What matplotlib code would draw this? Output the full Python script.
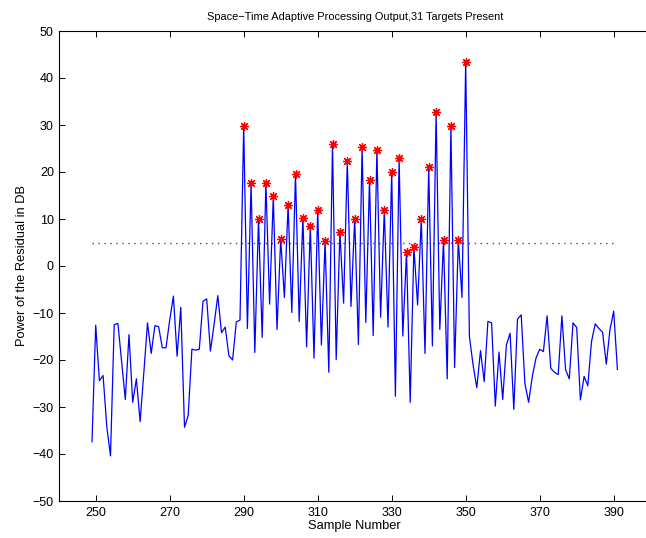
import numpy as np
import matplotlib
matplotlib.use("Agg")
import matplotlib.pyplot as plt

plt.rcParams['font.family'] = ['Liberation Sans', 'DejaVu Sans']

# Sample indices and residual power (dB)
samples = np.arange(249, 392)
power = [
    -37.4, -12.6, -24.4, -23.3, -34.2, -40.4, -12.5, -12.2, -20.3, -28.4,
    -14.6, -29.0, -24.0, -33.1, -22.8, -12.1, -18.6, -12.7, -12.9, -17.4,
    -17.4, -11.5, -6.4, -19.2, -8.8, -34.3, -31.8, -17.7, -17.9, -17.7,
    -7.5, -7.0, -18.1, -12.4, -6.3, -14.2, -13.0, -19.1, -20.0, -11.9,
    -11.5,
    # 290 .. 350
    29.8, -13.3, 17.6, -18.4, 9.9, -15.2, 17.7, -8.1, 14.8, -13.5,
    5.7, -6.7, 13.0, -9.9, 19.6, -11.8, 10.3, -17.2, 8.6, -19.6,
    11.9, -16.8, 5.3, -22.6, 25.9, -19.9, 7.3, -7.9, 22.3, -8.6,
    10.1, -16.7, 25.3, -12.0, 18.4, -14.8, 24.7, -10.9, 11.9, -13.0,
    20.1, -27.7, 22.9, -14.9, 2.9, -29.0, 4.0, -8.3, 10.0, -18.6,
    21.0, -17.0, 32.8, -13.5, 5.5, -24.0, 29.8, -21.6, 5.5, -6.7,
    43.5,
    # 351 .. 391
    -15.0, -21.1, -25.9, -18.0, -24.6, -11.8, -12.1, -29.8, -18.3, -28.4,
    -16.8, -14.3, -30.5, -11.3, -10.4, -25.0, -29.0, -23.5, -19.6, -17.7,
    -18.2, -10.6, -21.8, -22.6, -23.1, -10.6, -22.1, -24.0, -12.1, -13.1,
    -28.5, -23.5, -25.5, -16.1, -12.3, -13.3, -14.1, -20.9, -13.5, -9.6,
    -22.0,
]
power = np.array(power)

# Target locations (every other sample from 290 to 350)
targets = np.arange(290, 351, 2)
target_power = power[targets - samples[0]]

threshold = 5.0

xticks = [250, 270, 290, 310, 330, 350, 370, 390]
yticks = [-50, -40, -30, -20, -10, 0, 10, 20, 30, 40, 50]

W, H = 646, 538
fig = plt.figure(figsize=(W / 100, H / 100), dpi=100)
left, top, bottom = 58.7, 31.0, 501.0
xmin, xmax = 240, 400
px_per_unit = 3.7
ax_w = (xmax - xmin) * px_per_unit
ax = fig.add_axes([left / W, (H - bottom) / H, ax_w / W, (bottom - top) / H])

ax.plot(samples, power, color=(0, 0, 1), lw=0.9, zorder=2)
ax.plot(targets, target_power, linestyle='none', marker=(8, 2, 0),
        markersize=6.5, markeredgewidth=0.9, color='red', zorder=3)
ax.plot([samples[0], samples[-1]], [threshold, threshold], color='0.3',
        lw=1.0, linestyle=(0, (1, 3.3)), zorder=1)

ax.set_xlim(xmin, xmax)
ax.set_ylim(-50, 50)
ax.set_xticks(xticks)
ax.set_yticks(yticks)
ax.spines['right'].set_visible(False)
ax.tick_params(direction='in', length=4, width=0.7, labelsize=9,
               top=True, right=False)
ax.tick_params(axis='x', pad=4)
ax.tick_params(axis='y', pad=3.5)
for s in ax.spines.values():
    s.set_linewidth(0.8)

ax.set_title('Space\u2212Time Adaptive Processing Output,31 Targets Present',
             fontsize=7.9, pad=8)
ax.set_xlabel('Sample Number', fontsize=9.3, labelpad=1)
ax.set_ylabel('Power of the Residual in DB', fontsize=9.3, labelpad=3)

fig.savefig('out.png', dpi=100)
